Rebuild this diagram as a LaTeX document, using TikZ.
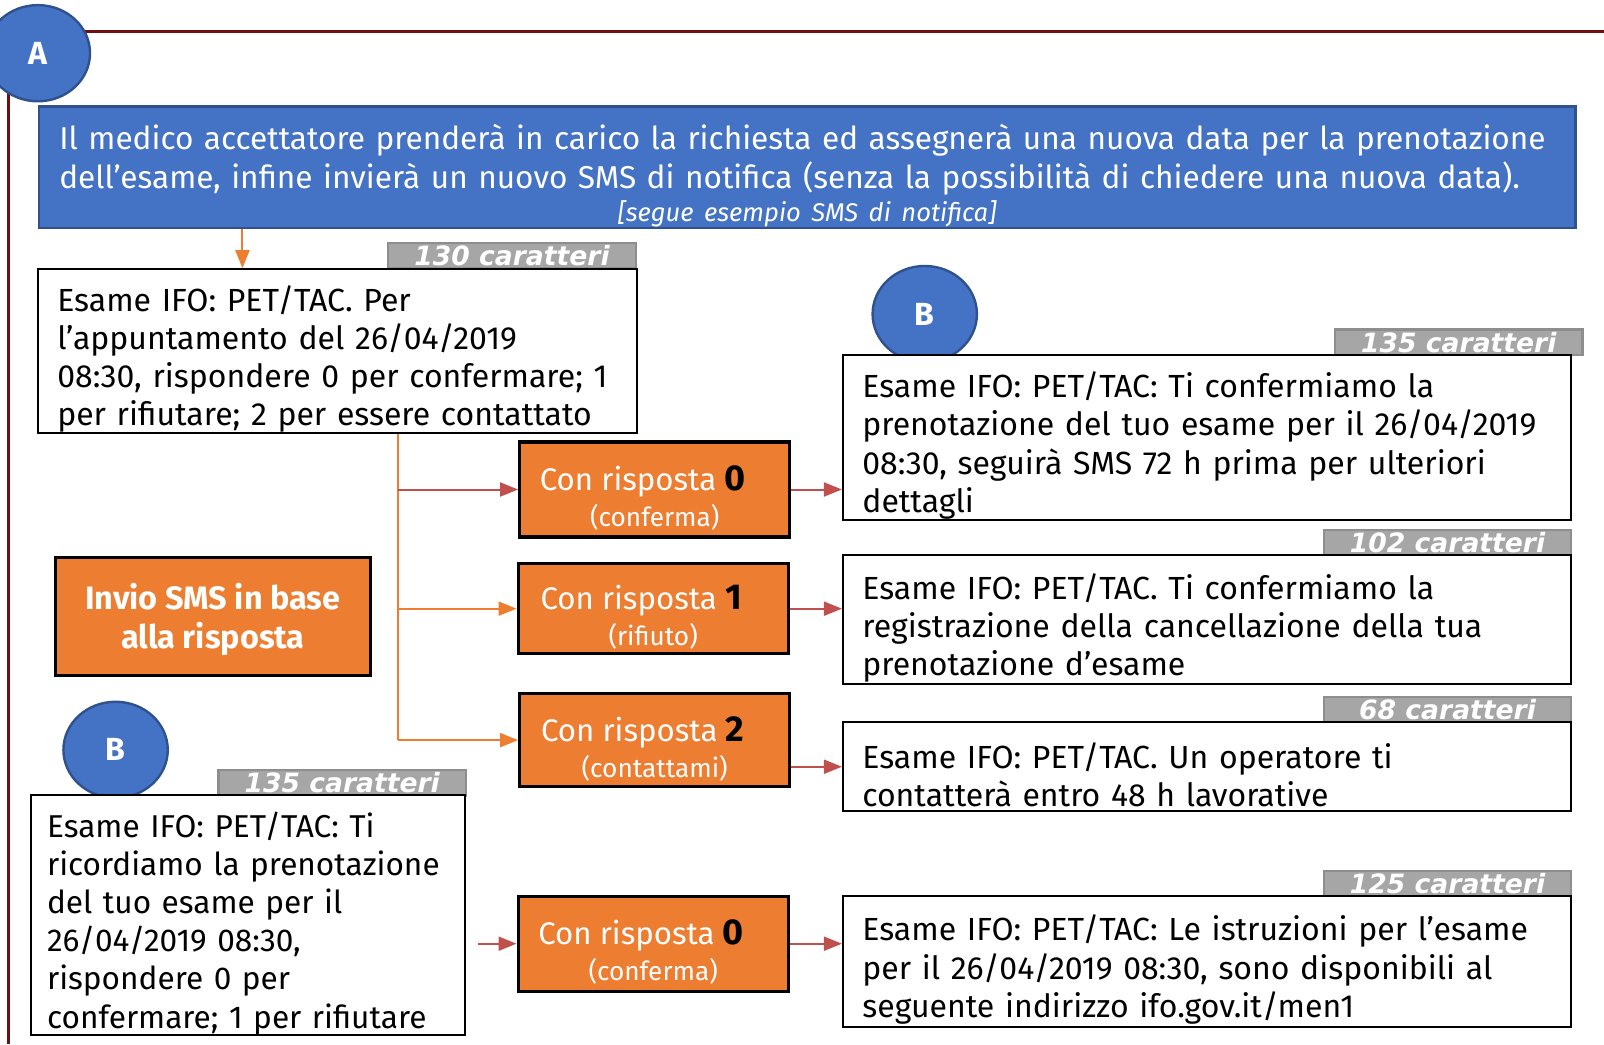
\documentclass[tikz,border=0pt]{standalone}
\usepackage{fontspec}
\setmainfont{Fira Sans}
\newfontfamily\countfont{DejaVu Sans}
\usetikzlibrary{arrows.meta,shapes.geometric}

\definecolor{bluefill}{HTML}{4472C4}
\definecolor{blueline}{HTML}{2F528F}
\definecolor{orangefill}{HTML}{ED7D31}
\definecolor{redline}{HTML}{C0504D}
\definecolor{framered}{HTML}{6E0E0E}
\definecolor{grayfill}{HTML}{A6A6A6}
\definecolor{graybord}{HTML}{8E8E8E}

\newcommand{\pxu}{0.5115pt}

\tikzset{
  letter/.style={ellipse, draw=blueline, fill=bluefill, line width=1.2pt,
    minimum width=102*\pxu, minimum height=94*\pxu, inner sep=0pt,
    text=white, font=\bfseries\fontsize{16}{18}\selectfont},
  headbox/.style={rectangle, draw=blueline, fill=bluefill, line width=1.2pt,
    text=white, align=left, inner xsep=20*\pxu, inner ysep=0pt,
    execute at begin node={\rule{0pt}{21pt}},
    font=\fontsize{15.8}{19.4}\selectfont},
  smsbox/.style={rectangle, draw=black, fill=white, line width=1pt,
    align=left, inner xsep=19*\pxu, inner ysep=0pt,
    execute at begin node={\rule{0pt}{21pt}},
    font=\fontsize{16}{19.1}\selectfont},
  countlabel/.style={rectangle, draw=graybord, fill=grayfill, line width=1.2pt,
    minimum width=242*\pxu, minimum height=25*\pxu, inner sep=0pt,
    text=white, font=\countfont\bfseries\itshape\fontsize{13.3}{14}\selectfont},
  replybox/.style={rectangle, draw=black, fill=orangefill, line width=1.6pt,
    minimum width=264*\pxu, text=white, align=center, inner sep=0pt,
    font=\fontsize{15.6}{18}\selectfont},
  oline/.style={draw=orangefill, line width=1pt},
  oarrow/.style={oline, -{Triangle[length=9pt,width=7pt]}},
  rarrow/.style={draw=redline, line width=1pt, -{Triangle[length=9pt,width=7pt]}},
}

\newcommand{\reply}[2]{\rule{0pt}{21pt}Con risposta {\color{black}\bfseries\fontsize{18}{18}\selectfont #1}\hspace*{12pt}\\
  {\fontsize{13.1}{14}\selectfont #2}}

\begin{document}
\begin{tikzpicture}[x=\pxu, y=-\pxu]
\useasboundingbox (0,0) rectangle (1568,1021);

% cornice
\draw[framered, line width=1.6pt] (8,1021) -- (8,31) -- (1568,31);
\node[letter] (letA) at (37,52) {A};

% richiesta al medico
\node[headbox, text width=1462*\pxu, minimum height=119*\pxu] (head) at (789,163.5)
  {Il medico accettatore prenderà in carico la richiesta ed assegnerà una nuova data per la prenotazione\\
   dell’esame, infine invierà un nuovo SMS di notifica (senza la possibilità di chiedere una nuova data).\\[-3pt]
   \makebox[\linewidth]{\itshape\fontsize{12.8}{14}\selectfont [segue esempio SMS di notifica]}};

% primo SMS
\node[countlabel] (cnt1) at (500.5,250) {\raisebox{-4pt}{130 caratteri}};
\node[smsbox, text width=548*\pxu, minimum height=158*\pxu] (sms1) at (330,343)
  {Esame IFO: PET/TAC. Per\\
   l’appuntamento del 26/04/2019\\
   08:30, rispondere 0 per confermare; 1\\
   per rifiutare; 2 per essere contattato};

% risposte
\node[replybox, minimum height=93*\pxu] (rep0) at (640,478.5) {\reply{0}{(conferma)}};
\node[replybox, minimum height=88*\pxu] (rep1) at (638.5,595) {\reply{1}{(rifiuto)}};
\node[replybox, minimum height=91*\pxu] (rep2) at (640,723.5) {\reply{2}{(contattami)}};

\node[rectangle, draw=black, fill=orangefill, line width=1.6pt, minimum width=308*\pxu,
  minimum height=115*\pxu, text=white, align=center,
  font=\bfseries\fontsize{16.2}{19.4}\selectfont] (invio) at (208,602.5)
  {\rule{0pt}{16pt}Invio SMS in base\\ alla risposta};

% SMS di risposta
\node[letter] (letB1) at (904,307) {B};
\node[countlabel] (cnt2) at (1426,334.5) {\raisebox{-4pt}{135 caratteri}};
\node[smsbox, text width=674*\pxu, minimum height=161*\pxu] (sms2) at (1180,427.5)
  {Esame IFO: PET/TAC: Ti confermiamo la\\
   prenotazione del tuo esame per il 26/04/2019\\
   08:30, seguirà SMS 72 h prima per ulteriori\\
   dettagli};

\node[countlabel] (cnt3) at (1415,530.5) {\raisebox{-4pt}{102 caratteri}};
\node[smsbox, text width=674*\pxu, minimum height=126*\pxu] (sms3) at (1180,606)
  {Esame IFO: PET/TAC. Ti confermiamo la\\
   registrazione della cancellazione della tua\\
   prenotazione d’esame};

\node[countlabel] (cnt4) at (1415,694) {\raisebox{-4pt}{68 caratteri}};
\node[smsbox, text width=674*\pxu, minimum height=87*\pxu] (sms4) at (1180,749.5)
  {Esame IFO: PET/TAC. Un operatore ti\\
   contatterà entro 48 h lavorative};

% promemoria
\node[letter] (letB2) at (113,733) {B};
\node[countlabel] (cnt5) at (334.5,765) {\raisebox{-4pt}{135 caratteri}};
\node[smsbox, inner xsep=16*\pxu, text width=393*\pxu, minimum height=235*\pxu,
  font=\fontsize{15.8}{19.1}\selectfont] (sms5) at (242.5,894.5)
  {Esame IFO: PET/TAC: Ti\\
   ricordiamo la prenotazione\\
   del tuo esame per il\\
   26/04/2019 08:30,\\
   rispondere 0 per\\
   confermare; 1 per rifiutare};

\node[replybox, minimum height=93*\pxu] (rep3) at (638.5,922.5) {\reply{0}{(conferma)}};

\node[countlabel] (cnt6) at (1415,864) {\raisebox{-4pt}{125 caratteri}};
\node[smsbox, text width=674*\pxu, minimum height=128*\pxu] (sms6) at (1180,940)
  {Esame IFO: PET/TAC: Le istruzioni per l’esame\\
   per il 26/04/2019 08:30, sono disponibili al\\
   seguente indirizzo ifo.gov.it/men1};

% collegamenti
\coordinate (tap) at (237,0);
\coordinate (fork) at (389,0);
\draw[oarrow] (tap |- head.south) -- (tap |- sms1.north);
\draw[oline] (fork |- sms1.south) -- (fork |- rep2.west);
\draw[rarrow] (fork |- rep0.west) -- (rep0.west);
\draw[oarrow] (fork |- rep1.west) -- (rep1.west);
\draw[oarrow] (fork |- rep2.west) -- (rep2.west);
\draw[rarrow] (rep0.east) -- (rep0.east -| sms2.west);
\draw[rarrow] (rep1.east) -- (rep1.east -| sms3.west);
\draw[rarrow] (rep2.east |- sms4.west) -- (sms4.west);
\draw[rarrow, shorten <=5.6pt] (sms5.east |- rep3.west) -- (rep3.west);
\draw[rarrow] (rep3.east) -- (rep3.east -| sms6.west);
\end{tikzpicture}
\end{document}
